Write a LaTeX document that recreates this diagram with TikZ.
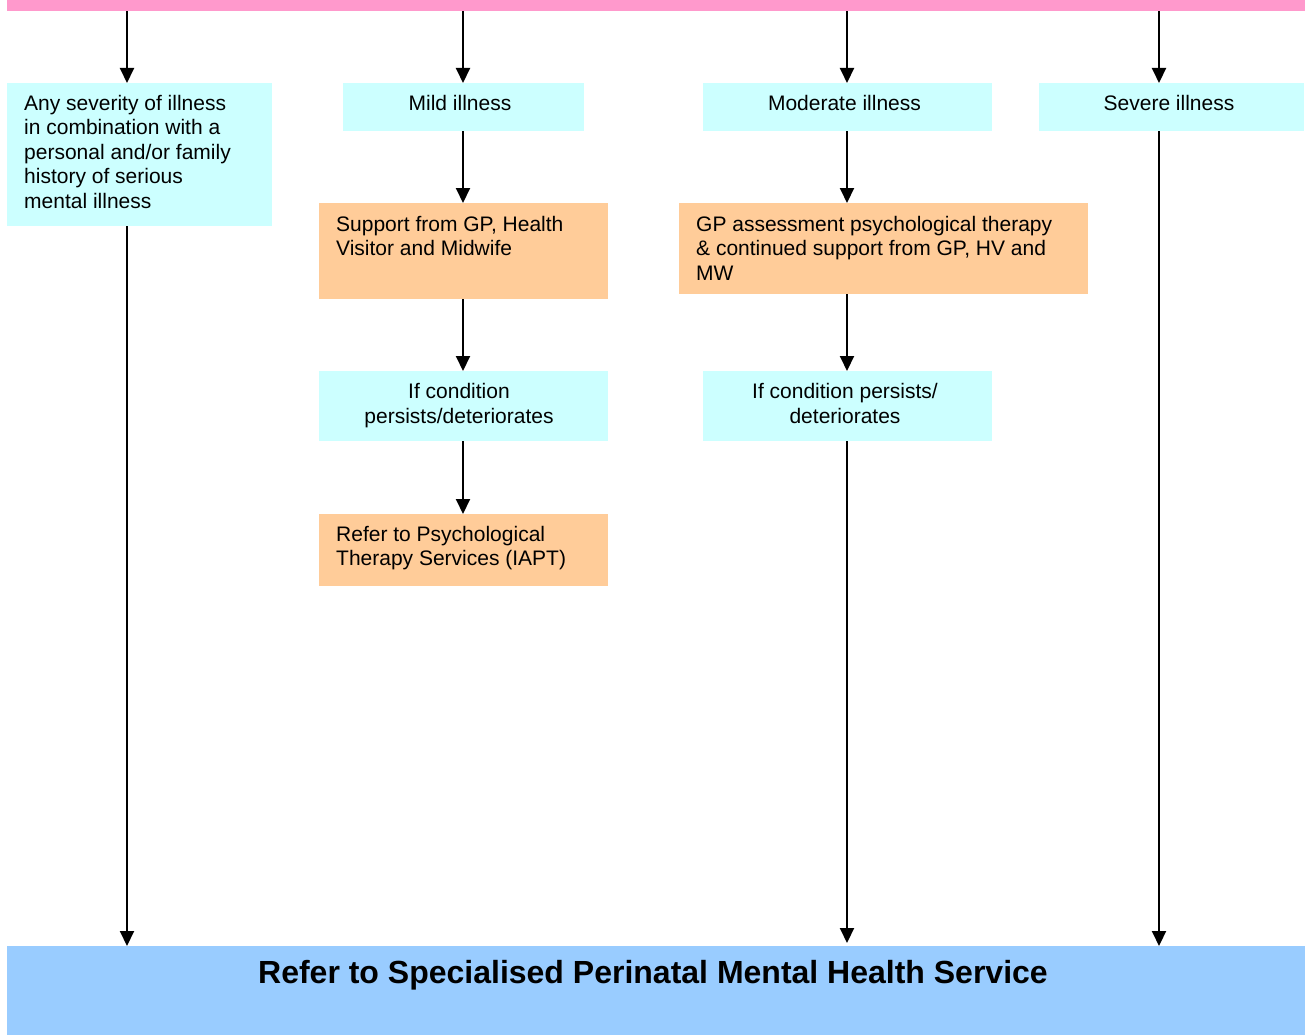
\documentclass[tikz,border=0pt]{standalone}
\usepackage{fontspec}
\setmainfont{Liberation Sans}
\usetikzlibrary{arrows.meta,positioning}

\definecolor{barpink}{HTML}{FF99CC}
\definecolor{palecyan}{HTML}{CCFFFF}
\definecolor{peach}{HTML}{FFCC99}
\definecolor{skyblue}{HTML}{99CCFF}

\newcommand{\boxfont}{\fontsize{21}{24.5}\selectfont}

\tikzset{
  cyanbox/.style={fill=palecyan,inner sep=0pt,anchor=north west},
  peachbox/.style={fill=peach,inner sep=0pt,anchor=north west},
  boxtext/.style={font=\boxfont,align=left,anchor=north west,inner sep=0pt},
  midtext/.style={font=\boxfont,align=center,anchor=base,inner sep=0pt},
  flow/.style={line width=2pt,-{Triangle[length=15pt,width=14pt]}}
}

\begin{document}
\begin{tikzpicture}[x=1pt,y=-1pt]
  \useasboundingbox (0,0) rectangle (1305,1035);
  % top bar and the referral box
  \node[fill=barpink,inner sep=0pt,anchor=north west,minimum width=1298pt,minimum height=11pt]
    (bar) at (7,0) {};
  \node[fill=skyblue,inner sep=0pt,anchor=north west,minimum width=1298pt,minimum height=89pt]
    (spec) at (7,946) {};
  \node[anchor=base,inner sep=0pt,font=\fontsize{32}{36}\selectfont\bfseries]
    (spectext) at (653,983) {Refer to Specialised Perinatal Mental Health Service};

  % severity boxes
  \node[cyanbox,minimum width=265pt,minimum height=143pt] (any) at (7,83) {};
  \node[boxtext] (anytext) at (24,95)
    {Any severity of illness\\in combination with a\\personal and/or family\\history of serious\\mental illness};
  \node[cyanbox,minimum width=241pt,minimum height=48pt] (mild) at (343,83) {};
  \node[midtext] (mildtext) at (460,110.5) {Mild illness};
  \node[cyanbox,minimum width=289pt,minimum height=48pt] (moderate) at (703,83) {};
  \node[midtext] (moderatetext) at (844.5,110.5) {Moderate illness};
  \node[cyanbox,minimum width=265pt,minimum height=48pt] (severe) at (1039,83) {};
  \node[midtext] (severetext) at (1169,110.5) {Severe illness};

  % mild column
  \node[peachbox,minimum width=289pt,minimum height=96pt] (support) at (319,203) {};
  \node[boxtext] (supporttext) at (336,216) {Support from GP, Health\\Visitor and Midwife};
  \node[cyanbox,minimum width=289pt,minimum height=70pt] (mildpersist) at (319,371) {};
  \node[midtext] (mildpersisttext) at (459,423) {If condition\\persists/deteriorates};
  \node[peachbox,minimum width=289pt,minimum height=72pt] (iapt) at (319,514) {};
  \node[boxtext] (iapttext) at (336,526) {Refer to Psychological\\Therapy Services (IAPT)};

  % moderate column
  \node[peachbox,minimum width=409pt,minimum height=91pt] (gpassess) at (679,203) {};
  \node[boxtext] (gpassesstext) at (696,216)
    {GP assessment psychological therapy\\\& continued support from GP, HV and\\MW};
  \node[cyanbox,minimum width=289pt,minimum height=70pt] (modpersist) at (703,371) {};
  \node[midtext] (modpersisttext) at (845,423) {If condition persists/\\deteriorates};

  % arrow columns
  \coordinate (c1) at (127,0);
  \coordinate (c2) at (463,0);
  \coordinate (c3) at (847,0);
  \coordinate (c4) at (1159,0);

  \draw[flow] (c1 |- bar.south) -- (c1 |- any.north);
  \draw[flow] (c2 |- bar.south) -- (c2 |- mild.north);
  \draw[flow] (c3 |- bar.south) -- (c3 |- moderate.north);
  \draw[flow] (c4 |- bar.south) -- (c4 |- severe.north);

  \draw[flow] (c2 |- mild.south) -- (c2 |- support.north);
  \draw[flow] (c2 |- support.south) -- (c2 |- mildpersist.north);
  \draw[flow] (c2 |- mildpersist.south) -- (c2 |- iapt.north);

  \draw[flow] (c3 |- moderate.south) -- (c3 |- gpassess.north);
  \draw[flow] (c3 |- gpassess.south) -- (c3 |- modpersist.north);

  \draw[flow] (c1 |- any.south) -- (c1 |- spec.north);
  \draw[flow] (c3 |- modpersist.south) -- ([yshift=3pt]c3 |- spec.north);
  \draw[flow] (c4 |- severe.south) -- (c4 |- spec.north);
\end{tikzpicture}
\end{document}
